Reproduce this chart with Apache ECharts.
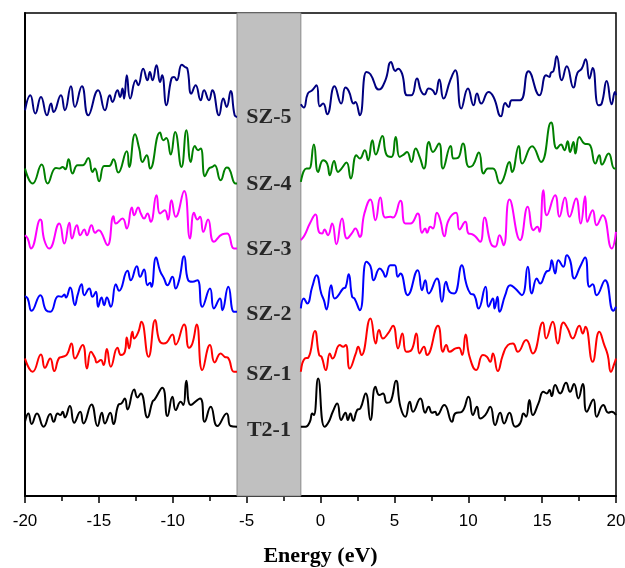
<!DOCTYPE html>
<html>
<head>
<meta charset="utf-8">
<script src="https://cdn.jsdelivr.net/npm/echarts@6/dist/echarts.min.js"></script>
<style>html,body{margin:0;padding:0;background:#fff}#c{width:625px;height:568px}</style>
</head>
<body>
<div id="c"></div>
<script>
// Energy axis ticks
const xTicks = [-20, -15, -10, -5, 0, 5, 10, 15, 20];
// Band-gap region (eV)
const gapBand = [-5.65, -1.33];
// Curve names (top to bottom) and colours
const names = ['SZ-5', 'SZ-4', 'SZ-3', 'SZ-2', 'SZ-1', 'T2-1'];
const colors = ['#000080', '#008000', '#ff00ff', '#0000ff', '#ff0000', '#000000'];
// Label anchor (DOS offset, a.u.) for each curve name
const labelLevels = [1136, 937, 741, 544, 364, 198];

// DOS (offset, a.u.) vs energy (eV): [E, DOS]
const sz5Left = [[-20,1158],[-19.64,1203],[-19.30,1148],[-18.92,1198],[-18.51,1143],[-18.24,1178],[-18.06,1153],[-17.57,1203],[-17.30,1158],[-16.89,1230],[-16.62,1168],[-16.15,1230],[-15.72,1143],[-15.05,1218],[-14.59,1158],[-14.26,1203],[-14.08,1183],[-13.74,1218],[-13.56,1198],[-13.40,1223],[-13.29,1193],[-13.11,1263],[-12.88,1193],[-12.50,1248],[-12.34,1233],[-12.00,1283],[-11.71,1248],[-11.55,1273],[-11.37,1248],[-11.10,1293],[-10.86,1243],[-10.72,1263],[-10.43,1173],[-10.09,1253],[-9.91,1258],[-9.73,1248],[-9.39,1295],[-9.17,1288],[-9.01,1283],[-8.74,1208],[-8.45,1233],[-8.11,1188],[-7.88,1218],[-7.55,1188],[-7.32,1218],[-6.87,1143],[-6.58,1193],[-6.35,1168],[-6.08,1216],[-5.81,1143],[-5.65,1138]];
const sz5Right = [[-1.33,1176],[-1.13,1166],[-0.86,1208],[-0.56,1218],[-0.27,1233],[-0.05,1170],[0.18,1178],[0.45,1146],[0.95,1230],[1.40,1178],[1.69,1226],[1.91,1216],[2.25,1178],[2.36,1183],[2.66,1143],[3.11,1273],[3.38,1266],[3.96,1220],[4.39,1248],[4.77,1303],[5.07,1276],[5.25,1283],[5.52,1268],[5.86,1203],[6.15,1203],[6.53,1253],[6.80,1216],[7.03,1205],[7.32,1223],[7.59,1218],[7.77,1206],[8.04,1250],[8.33,1193],[8.78,1248],[9.12,1278],[9.53,1163],[9.98,1223],[10.36,1173],[10.59,1208],[10.88,1178],[11.37,1213],[11.71,1198],[12.21,1140],[12.50,1180],[12.73,1168],[12.95,1188],[13.51,1188],[14.08,1275],[14.82,1203],[15.27,1263],[15.50,1258],[15.59,1270],[15.77,1276],[15.99,1320],[16.33,1248],[16.67,1290],[17.12,1226],[17.39,1270],[17.68,1283],[17.95,1311],[18.20,1253],[18.42,1285],[18.81,1173],[19.03,1178],[19.37,1246],[19.71,1176],[19.93,1213],[20,1203]];

const sz4Left = [[-20,983],[-19.48,938],[-18.87,995],[-18.47,938],[-17.91,985],[-17.68,983],[-17.45,988],[-17.27,981],[-17.05,1011],[-16.78,968],[-16.44,993],[-16.10,993],[-15.72,1015],[-15.43,973],[-15.27,983],[-14.98,945],[-14.64,991],[-14.30,991],[-14.01,1011],[-13.69,971],[-13.11,1035],[-12.95,988],[-12.55,1086],[-12.27,1043],[-12.05,1003],[-11.76,1023],[-11.53,983],[-10.86,1091],[-10.63,1068],[-10.43,1075],[-10.14,1025],[-9.84,1093],[-9.41,988],[-9.07,1098],[-8.78,1003],[-8.51,1051],[-8.29,1038],[-8.11,1043],[-7.82,960],[-7.55,983],[-7.32,988],[-7.16,993],[-6.76,948],[-6.35,986],[-6.19,983],[-5.74,938],[-5.65,938]];
const sz4Right = [[-1.33,943],[-0.95,983],[-0.77,983],[-0.45,1055],[-0.16,973],[0.18,1008],[0.45,998],[0.63,963],[0.92,1006],[1.19,973],[1.42,983],[1.76,1001],[2.05,953],[2.43,1023],[2.66,1013],[3.00,1038],[3.22,1008],[3.51,1068],[3.74,1025],[4.19,1081],[4.46,1025],[4.80,1018],[5.09,1078],[5.36,1018],[5.63,1025],[5.86,1033],[6.15,1003],[6.44,1043],[6.71,1018],[7.00,983],[7.34,1063],[7.61,1033],[8.02,1058],[8.29,983],[8.81,1051],[9.01,1013],[9.30,1015],[9.64,1058],[10.05,988],[10.32,993],[10.72,1031],[11.04,968],[11.33,983],[11.67,983],[12.16,938],[12.39,953],[12.79,1003],[12.97,973],[13.42,1051],[13.65,998],[14.32,1050],[14.93,1003],[15.61,1121],[15.99,1043],[16.28,1055],[16.51,1038],[16.73,1065],[16.89,1033],[17.12,1063],[17.25,1028],[17.52,1078],[17.86,1058],[18.20,1055],[18.60,998],[18.87,1023],[19.05,995],[19.50,1028],[19.89,983],[20,983]];

const sz3Left = [[-20,783],[-19.82,773],[-19.59,743],[-18.96,830],[-18.69,768],[-18.36,743],[-17.68,818],[-17.34,758],[-17.00,820],[-16.82,773],[-16.49,813],[-16.26,783],[-15.99,800],[-15.81,783],[-15.50,813],[-15.25,790],[-15.02,798],[-14.86,793],[-14.41,753],[-14.01,840],[-13.85,818],[-13.40,833],[-13.11,803],[-12.77,866],[-12.61,843],[-12.34,866],[-12.16,848],[-11.94,833],[-11.71,848],[-11.49,823],[-11.10,903],[-10.86,848],[-10.54,858],[-10.32,830],[-10.09,888],[-9.80,838],[-9.23,916],[-8.83,773],[-8.56,850],[-8.33,830],[-8.15,838],[-7.93,793],[-7.61,830],[-7.21,763],[-6.64,786],[-6.31,788],[-5.86,743],[-5.65,743]];
const sz3Right = [[-1.33,768],[-1.08,783],[-0.72,818],[-0.34,845],[-0.11,793],[0.11,788],[0.27,800],[0.50,783],[0.79,818],[1.08,756],[1.46,833],[1.80,773],[2.14,790],[2.36,803],[2.66,778],[2.97,848],[3.38,890],[3.72,828],[4.05,896],[4.39,836],[4.73,838],[4.91,836],[5.41,886],[5.74,818],[6.08,818],[6.58,848],[6.87,790],[7.09,803],[7.21,790],[7.43,808],[7.61,803],[7.88,850],[8.11,828],[8.38,780],[8.67,828],[9.17,850],[9.41,800],[9.80,823],[10.02,788],[10.25,786],[10.47,780],[10.81,763],[11.10,836],[11.53,758],[11.82,748],[12.12,783],[12.39,753],[12.79,890],[13.51,768],[14.03,868],[14.41,798],[14.68,808],[14.82,793],[15.09,918],[15.32,843],[15.88,903],[16.17,838],[16.55,896],[16.85,838],[17.30,893],[17.61,818],[17.91,900],[18.06,823],[18.42,858],[18.69,813],[19.10,843],[19.71,743],[20,793]];

const sz2Left = [[-20,600],[-19.82,593],[-19.55,556],[-18.96,603],[-18.58,558],[-18.29,553],[-17.75,600],[-17.52,598],[-17.34,605],[-17.23,596],[-16.94,626],[-16.62,573],[-16.44,603],[-16.17,636],[-15.99,603],[-15.65,623],[-15.43,598],[-15.20,613],[-15.05,568],[-14.82,596],[-14.64,573],[-14.46,596],[-14.19,568],[-13.85,636],[-13.63,616],[-13.06,676],[-12.84,648],[-12.43,690],[-12.21,658],[-11.94,680],[-11.71,633],[-11.53,640],[-11.44,628],[-11.13,716],[-10.86,676],[-10.59,653],[-10.36,633],[-10.02,658],[-9.80,623],[-9.57,648],[-9.23,720],[-8.96,648],[-8.67,643],[-8.33,648],[-8.00,568],[-7.48,623],[-7.21,563],[-6.80,593],[-6.64,558],[-6.24,628],[-5.86,553],[-5.65,553]];
const sz2Right = [[-1.33,563],[-1.13,593],[-0.90,578],[-0.56,628],[-0.27,663],[0.05,608],[0.23,588],[0.41,560],[0.72,633],[0.95,593],[1.13,598],[1.53,623],[1.69,626],[1.91,666],[2.14,598],[2.30,593],[2.66,558],[3.11,703],[3.38,690],[3.60,648],[4.01,683],[4.23,673],[4.39,658],[4.73,693],[5.02,693],[5.23,658],[5.41,668],[5.90,603],[6.58,678],[6.87,618],[7.09,648],[7.32,608],[7.88,653],[8.22,583],[8.49,643],[8.74,613],[9.05,608],[9.57,693],[9.86,638],[10.14,608],[10.41,603],[10.70,563],[11.17,628],[11.37,568],[11.67,593],[11.78,563],[11.98,598],[12.12,553],[12.50,603],[12.84,633],[13.18,623],[13.63,603],[14.03,688],[14.30,608],[14.64,653],[14.86,638],[15.27,673],[15.50,678],[15.65,708],[15.88,668],[16.10,708],[16.44,688],[16.67,723],[16.89,708],[17.18,653],[17.57,688],[17.91,716],[18.20,628],[18.42,636],[18.69,603],[19.26,648],[19.82,556],[20,568]];

const sz1Left = [[-20,413],[-19.48,373],[-18.92,425],[-18.65,385],[-18.29,413],[-18.02,375],[-17.68,415],[-17.45,418],[-17.16,425],[-16.85,458],[-16.62,413],[-16.10,453],[-15.81,383],[-15.54,433],[-15.27,415],[-15.14,401],[-14.86,408],[-14.68,393],[-14.46,441],[-14.19,388],[-13.74,445],[-13.51,423],[-13.24,433],[-13.11,476],[-12.95,443],[-12.73,493],[-12.61,473],[-12.34,491],[-12.12,523],[-11.64,418],[-11.19,528],[-10.92,468],[-10.63,458],[-10.41,461],[-10.02,485],[-9.80,455],[-9.23,515],[-8.90,445],[-8.67,458],[-8.38,515],[-8.00,378],[-7.48,453],[-7.16,401],[-6.76,428],[-6.49,418],[-6.26,415],[-5.86,373],[-5.65,373]];
const sz1Right = [[-1.33,373],[-1.06,413],[-0.83,415],[-0.38,495],[-0.09,423],[0.07,418],[0.36,378],[0.63,428],[0.81,413],[1.31,453],[1.53,448],[1.71,453],[1.98,383],[2.39,428],[2.55,448],[2.77,423],[3.38,533],[3.74,458],[3.96,498],[4.23,473],[4.57,488],[4.91,511],[5.25,443],[5.54,488],[5.81,433],[6.15,438],[6.49,488],[6.71,428],[7.00,448],[7.21,423],[7.95,511],[8.29,433],[8.51,453],[8.74,433],[9.14,443],[9.37,445],[9.59,423],[9.82,485],[10.09,418],[10.54,378],[10.99,423],[11.26,418],[11.49,403],[11.67,428],[12.00,375],[12.34,423],[12.68,453],[13.02,458],[13.36,433],[13.92,468],[14.37,428],[15.05,521],[15.27,473],[15.72,523],[16.06,458],[16.44,521],[16.73,503],[17.07,473],[17.52,511],[17.75,488],[17.93,508],[18.42,403],[18.87,493],[19.21,453],[19.44,423],[19.66,373],[19.89,398],[20,413]];

const t21Left = [[-20,223],[-19.77,248],[-19.55,216],[-19.19,248],[-18.74,208],[-18.29,246],[-18.06,223],[-17.79,248],[-17.61,243],[-17.45,253],[-17.30,236],[-16.96,270],[-16.67,220],[-16.26,253],[-16.04,218],[-15.50,275],[-15.09,210],[-14.80,250],[-14.59,218],[-14.23,250],[-14.01,216],[-13.69,273],[-13.47,278],[-13.24,293],[-13.06,260],[-12.61,320],[-12.39,296],[-12.16,308],[-11.71,236],[-11.37,283],[-11.22,290],[-10.70,325],[-10.36,240],[-10.02,298],[-9.80,258],[-9.46,283],[-9.28,273],[-9.08,346],[-8.78,273],[-8.15,293],[-7.84,223],[-7.43,268],[-6.98,210],[-6.35,248],[-6.08,210],[-5.65,208]];
const t21Right = [[-1.33,208],[-1.01,208],[-0.72,223],[-0.56,248],[-0.45,243],[-0.16,353],[0.27,208],[0.56,223],[0.83,253],[1.13,278],[1.40,228],[1.69,250],[1.85,228],[2.03,248],[2.21,226],[2.48,258],[2.70,263],[3.06,308],[3.38,228],[3.72,328],[3.99,303],[4.23,308],[4.50,280],[4.73,283],[5.11,346],[5.41,268],[5.74,238],[6.04,283],[6.26,253],[6.76,293],[7.09,250],[7.32,268],[7.55,250],[7.77,253],[7.88,243],[8.38,273],[8.90,223],[9.12,248],[9.57,253],[10.02,298],[10.32,243],[10.59,268],[10.81,233],[11.15,243],[11.49,268],[11.82,213],[12.16,250],[12.43,218],[12.79,250],[13.18,208],[13.51,218],[13.74,248],[13.92,238],[14.14,288],[14.37,243],[14.75,278],[15.09,313],[15.32,308],[15.50,318],[15.65,300],[15.88,333],[16.22,308],[16.62,340],[16.89,313],[17.16,336],[17.45,293],[17.75,336],[18.02,253],[18.47,290],[18.69,238],[19.14,273],[19.48,250],[19.71,253],[20,243]];

const curves = [
  [sz5Left, sz5Right], [sz4Left, sz4Right], [sz3Left, sz3Right],
  [sz2Left, sz2Right], [sz1Left, sz1Right], [t21Left, t21Right]
];

const chart = echarts.init(document.getElementById('c'), null, {renderer: 'canvas'});
const gapMid = (gapBand[0] + gapBand[1]) / 2;

const series = curves.map((c, i) => ({
  name: names[i],
  type: 'line',
  data: c[0].concat([[gapMid, '-']], c[1]),
  showSymbol: false,
  symbol: 'none',
  smooth: 0.5,
  connectNulls: false,
  lineStyle: {color: colors[i], width: 2},
  itemStyle: {color: colors[i]},
  z: 3
}));

series.push({
  type: 'line',
  data: [],
  silent: true,
  markArea: {
    silent: true,
    itemStyle: {color: '#c0c0c0', borderColor: '#8a8a8a', borderWidth: 1},
    data: [[{xAxis: gapBand[0]}, {xAxis: gapBand[1]}]]
  },
  z: 1
});

series.push({
  type: 'scatter',
  symbolSize: 0,
  silent: true,
  z: 10,
  data: names.map((n, i) => ({name: n, value: [gapMid, labelLevels[i]]})),
  label: {
    show: true, position: 'inside', formatter: '{b}',
    fontFamily: '"Liberation Serif", "Times New Roman", serif',
    fontWeight: 'bold', fontSize: 22, color: '#000'
  }
});

chart.setOption({
  animation: false,
  backgroundColor: '#fff',
  grid: {left: 25, right: 9, top: 13, bottom: 72, outerBoundsMode: 'none', containLabel: false, show: true, borderColor: '#000', borderWidth: 1.5, backgroundColor: 'transparent'},
  xAxis: {
    type: 'value', min: xTicks[0], max: xTicks[xTicks.length - 1], interval: 5,
    axisLine: {onZero: false, lineStyle: {color: '#000', width: 2}},
    axisTick: {show: true, inside: false, length: 7, lineStyle: {color: '#000', width: 1.5}},
    minorTick: {show: true, splitNumber: 2, length: 5, lineStyle: {color: '#000', width: 1.5}},
    splitLine: {show: false},
    minorSplitLine: {show: false},
    axisLabel: {color: '#000', fontFamily: '"Liberation Sans", Arial, sans-serif', fontSize: 17, margin: 17},
    name: 'Energy (eV)', nameLocation: 'middle', nameGap: 49,
    nameTextStyle: {fontFamily: '"Liberation Serif", "Times New Roman", serif', fontWeight: 'bold', fontSize: 22, color: '#000'}
  },
  yAxis: {
    type: 'value', min: 0, max: 1450,
    axisLine: {show: true, onZero: false, lineStyle: {color: '#000', width: 2}},
    axisTick: {show: false}, axisLabel: {show: false}, splitLine: {show: false}
  },
  series: series
});
</script>
</body>
</html>
